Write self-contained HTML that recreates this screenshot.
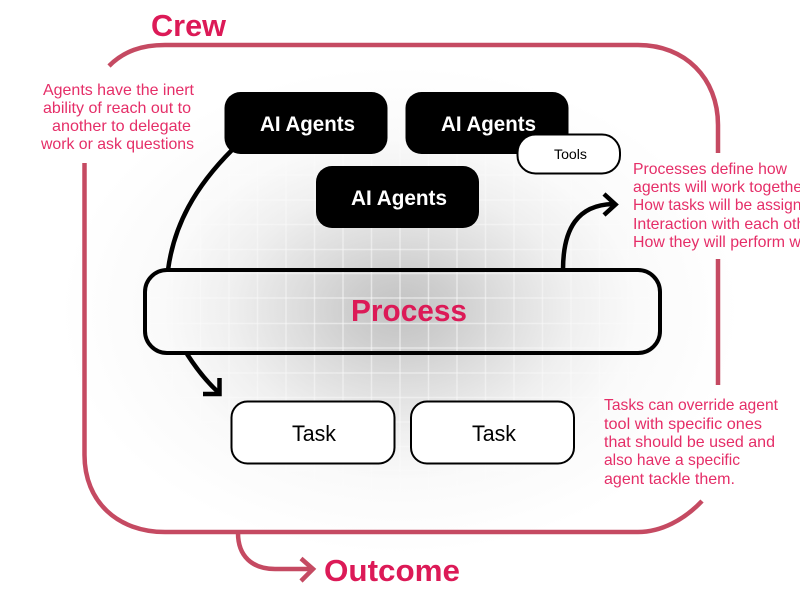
<!DOCTYPE html>
<html><head><meta charset="utf-8"><style>
html,body{margin:0;padding:0;background:#fff}
svg{display:block}
text{font-family:"Liberation Sans",sans-serif}
.n{fill:#e52e68;font-size:16px}
.b{font-weight:bold;fill:#fff;font-size:21px}
.h{font-weight:bold;fill:#dc1a57;font-size:31px}
</style></head><body>
<svg width="800" height="600" viewBox="0 0 800 600" xmlns="http://www.w3.org/2000/svg">
<defs>
<radialGradient id="g" gradientUnits="userSpaceOnUse" cx="400" cy="310" r="340" gradientTransform="translate(400 310) scale(1 .72) translate(-400 -310)">
<stop offset="0" stop-color="#c2c2c2"/><stop offset=".15" stop-color="#cecece"/><stop offset=".3" stop-color="#dddddd"/><stop offset=".5" stop-color="#efefef"/><stop offset=".7" stop-color="#fafafa"/><stop offset="1" stop-color="#fff"/>
</radialGradient>
<radialGradient id="mg" gradientUnits="userSpaceOnUse" cx="400" cy="310" r="320" gradientTransform="translate(400 310) scale(1 .72) translate(-400 -310)">
<stop offset="0" stop-color="#fff"/><stop offset=".6" stop-color="#fff" stop-opacity=".6"/><stop offset="1" stop-color="#fff" stop-opacity="0"/>
</radialGradient>
<mask id="m" maskUnits="userSpaceOnUse" x="0" y="0" width="800" height="600"><rect width="800" height="600" fill="url(#mg)"/></mask>
</defs>
<rect width="800" height="600" fill="#fff"/>
<rect width="800" height="600" fill="url(#g)"/>
<g stroke="#fff" stroke-opacity=".55" stroke-width="1.500" mask="url(#m)">
<path d="M115 90V530M143.500 90V530M172 90V530M200.500 90V530M229 90V530M257.500 90V530M286 90V530M314.500 90V530M343 90V530M371.500 90V530M400 90V530M428.500 90V530M457 90V530M485.500 90V530M514 90V530M542.500 90V530M571 90V530M599.500 90V530M628 90V530M656.500 90V530M685 90V530"/>
<path d="M90 175H710M90 200H710M90 224.500H710M90 249.500H710M90 273.500H710M90 298H710M90 323.500H710M90 348H710M90 373H710M90 397.500H710M90 422H710M90 446.500H710M90 471H710M90 496H710"/>
</g>

<!-- crew frame -->
<g fill="none" stroke="#c54a62" stroke-width="4.500">
<path d="M109 66C124 51 142 45 165 45H638C685 45 718 78 718 125V153"/>
<path d="M718 259V385"/>
<path d="M84.500 163V455C84.500 502 118 532 165 532H638C661 532 684 520 702 501"/>
<path d="M238 533C238 556 252 569 275 569H312"/>
<path d="M301 558.500L313 569L301 581"/>
</g>

<text class="h" x="151" y="36" textLength="75" lengthAdjust="spacingAndGlyphs">Crew</text>
<text class="h" x="324" y="581" textLength="136" lengthAdjust="spacingAndGlyphs">Outcome</text>

<!-- left note -->
<text class="n" x="43" y="95" textLength="151" lengthAdjust="spacingAndGlyphs">Agents have the inert</text>
<text class="n" x="43" y="113" textLength="148" lengthAdjust="spacingAndGlyphs">ability of reach out to</text>
<text class="n" x="52" y="131" textLength="139" lengthAdjust="spacingAndGlyphs">another to delegate</text>
<text class="n" x="41" y="149" textLength="153" lengthAdjust="spacingAndGlyphs">work or ask questions</text>

<!-- right note -->
<text class="n" x="633" y="174" textLength="154" lengthAdjust="spacingAndGlyphs">Processes define how</text>
<text class="n" x="633" y="192" textLength="178" lengthAdjust="spacingAndGlyphs">agents will work together.</text>
<text class="n" x="633" y="210" textLength="190" lengthAdjust="spacingAndGlyphs">How tasks will be assigned.</text>
<text class="n" x="633" y="229" textLength="190" lengthAdjust="spacingAndGlyphs">Interaction with each other.</text>
<text class="n" x="633" y="247" textLength="190" lengthAdjust="spacingAndGlyphs">How they will perform work</text>

<!-- bottom right note -->
<text class="n" x="604" y="410" textLength="174" lengthAdjust="spacingAndGlyphs">Tasks can override agent</text>
<text class="n" x="604" y="429" textLength="158" lengthAdjust="spacingAndGlyphs">tool with specific ones</text>
<text class="n" x="604" y="447" textLength="171" lengthAdjust="spacingAndGlyphs">that should be used and</text>
<text class="n" x="604" y="465" textLength="136" lengthAdjust="spacingAndGlyphs">also have a specific</text>
<text class="n" x="604" y="484" textLength="131" lengthAdjust="spacingAndGlyphs">agent tackle them.</text>

<!-- connectors -->
<g fill="none" stroke="#000" stroke-width="4.500">
<path d="M232 150C195 187 174 225 168 270"/>
<path d="M563 270C563 228 578 205 613 204"/>
<path d="M604 194L615.500 204.500L604 215"/>
<path d="M187 354C196 368 206 381 218 392"/>
<path d="M203 394H219.500V378"/>
</g>

<!-- agents -->
<rect x="224.500" y="92" width="163" height="62" rx="16" fill="#000"/>
<rect x="405.500" y="92" width="163" height="62" rx="16" fill="#000"/>
<rect x="316" y="166" width="163" height="62" rx="16" fill="#000"/>
<text class="b" x="260" y="131" textLength="95" lengthAdjust="spacingAndGlyphs">AI Agents</text>
<text class="b" x="441" y="131" textLength="95" lengthAdjust="spacingAndGlyphs">AI Agents</text>
<text class="b" x="351" y="205" textLength="96" lengthAdjust="spacingAndGlyphs">AI Agents</text>

<!-- tools -->
<rect x="517.500" y="134.500" width="102.500" height="39" rx="18" fill="#fff" stroke="#000" stroke-width="2"/>
<text x="554" y="159" font-size="13.500" fill="#000" textLength="33" lengthAdjust="spacingAndGlyphs">Tools</text>

<!-- process -->
<rect x="145" y="270" width="515" height="83" rx="22" fill="none" stroke="#000" stroke-width="4"/>
<text class="h" x="351" y="321" textLength="116" lengthAdjust="spacingAndGlyphs">Process</text>

<!-- tasks -->
<rect x="231.500" y="401.500" width="163" height="62" rx="16" fill="#fff" stroke="#000" stroke-width="2"/>
<rect x="411" y="401.500" width="163" height="62" rx="16" fill="#fff" stroke="#000" stroke-width="2"/>
<text x="292" y="441" font-size="22" fill="#000" textLength="44" lengthAdjust="spacingAndGlyphs">Task</text>
<text x="472" y="441" font-size="22" fill="#000" textLength="44" lengthAdjust="spacingAndGlyphs">Task</text>
</svg>
</body></html>
